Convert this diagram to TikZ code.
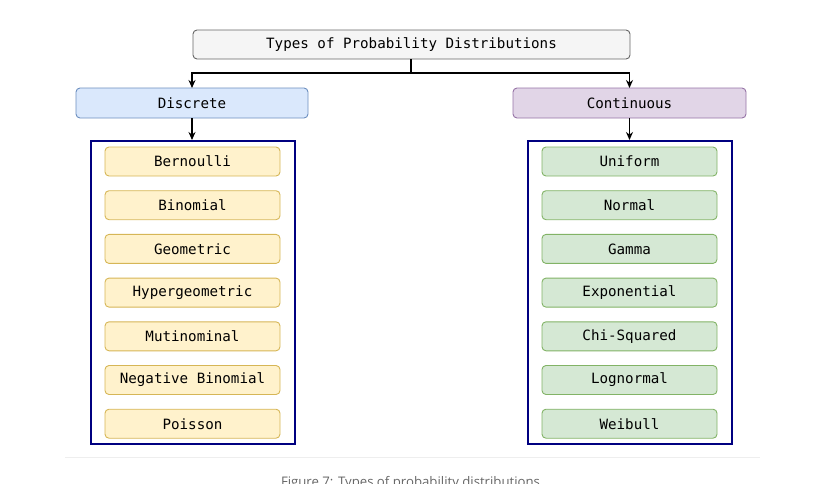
\documentclass[tikz,border=0pt]{standalone}
\usepackage{fontspec}
\setmonofont{DejaVu Sans Mono}
\setsansfont{Open Sans}
\usetikzlibrary{arrows.meta}
\definecolor{topfill}{HTML}{F5F5F5}
\definecolor{topdraw}{HTML}{666666}
\definecolor{bluefill}{HTML}{DAE8FC}
\definecolor{bluedraw}{HTML}{6C8EBF}
\definecolor{purpfill}{HTML}{E1D5E7}
\definecolor{purpdraw}{HTML}{9673A6}
\definecolor{yelfill}{HTML}{FFF2CC}
\definecolor{yeldraw}{HTML}{D6B656}
\definecolor{grnfill}{HTML}{D5E8D4}
\definecolor{grndraw}{HTML}{82B366}
\definecolor{navy}{HTML}{000080}
\definecolor{sepline}{HTML}{EEEEEE}
\definecolor{captxt}{HTML}{666666}
\tikzset{
  lbl/.style={font=\ttfamily\fontsize{14.2}{16}\selectfont, text=black, inner sep=0pt},
  box/.style={rounded corners=4pt, line width=0.9pt},
  container/.style={draw=navy, line width=2pt},
  conn/.style={line width=1.1pt, -{Stealth[length=8pt,width=7pt]}},
}
\begin{document}
\begin{tikzpicture}[x=1pt,y=-1pt]
\useasboundingbox (0,0) rectangle (836,483);
\clip (0,0) rectangle (836,483);
% top
\draw[box, fill=topfill, draw=topdraw] (193,30) rectangle (630,59);
\node[lbl] (top) at (411.5,44.5) {Types of Probability Distributions};
\coordinate (topb) at (411,59);
% categories
\draw[box, fill=bluefill, draw=bluedraw] (76,88) rectangle (308,118);
\node[lbl] (disc) at (192,103) {Discrete};
\draw[box, fill=purpfill, draw=purpdraw] (513,88) rectangle (746,118);
\node[lbl] (cont) at (629.5,103) {Continuous};
\coordinate (discT) at (192,88);
\coordinate (contT) at (629.5,88);
\coordinate (discB) at (192,118);
\coordinate (contB) at (629.5,118);
% containers
\draw[container] (91,141) rectangle (295,444);
\draw[container] (528,141) rectangle (732,444);
\coordinate (lcT) at (192,140);
\coordinate (rcT) at (629.5,140);
% connectors
\draw[line width=1.1pt] (topb) -- (411,73);
\draw[conn] (411,73) -| (discT);
\draw[conn] (411,73) -| (contT);
\draw[conn] (discB) -- (lcT);
\draw[conn] (contB) -- (rcT);
% children
\foreach \i/\t in {0/Bernoulli,1/Binomial,2/Geometric,3/Hypergeometric,4/Mutinominal,5/Negative Binomial,6/Poisson}{
  \pgfmathsetmacro{\yy}{161.5+43.7*\i}
  \draw[box, fill=yelfill, draw=yeldraw] (105,\yy-14.5) rectangle (280,\yy+14.5);
  \node[lbl] (d\i) at (192.5,\yy) {\t};
}
\foreach \i/\t in {0/Uniform,1/Normal,2/Gamma,3/Exponential,4/Chi-Squared,5/Lognormal,6/Weibull}{
  \pgfmathsetmacro{\yy}{161.5+43.7*\i}
  \draw[box, fill=grnfill, draw=grndraw] (542,\yy-14.5) rectangle (717,\yy+14.5);
  \node[lbl] (c\i) at (629.5,\yy) {\t};
}
% separator and caption
\draw[sepline, line width=1pt] (65,457.5) -- (760,457.5);
\node[font=\sffamily\fontsize{13.2}{15}\selectfont, text=captxt, inner sep=0pt, anchor=base] (cap) at (410.5,486) {Figure 7: Types of probability distributions};
\end{tikzpicture}
\end{document}
